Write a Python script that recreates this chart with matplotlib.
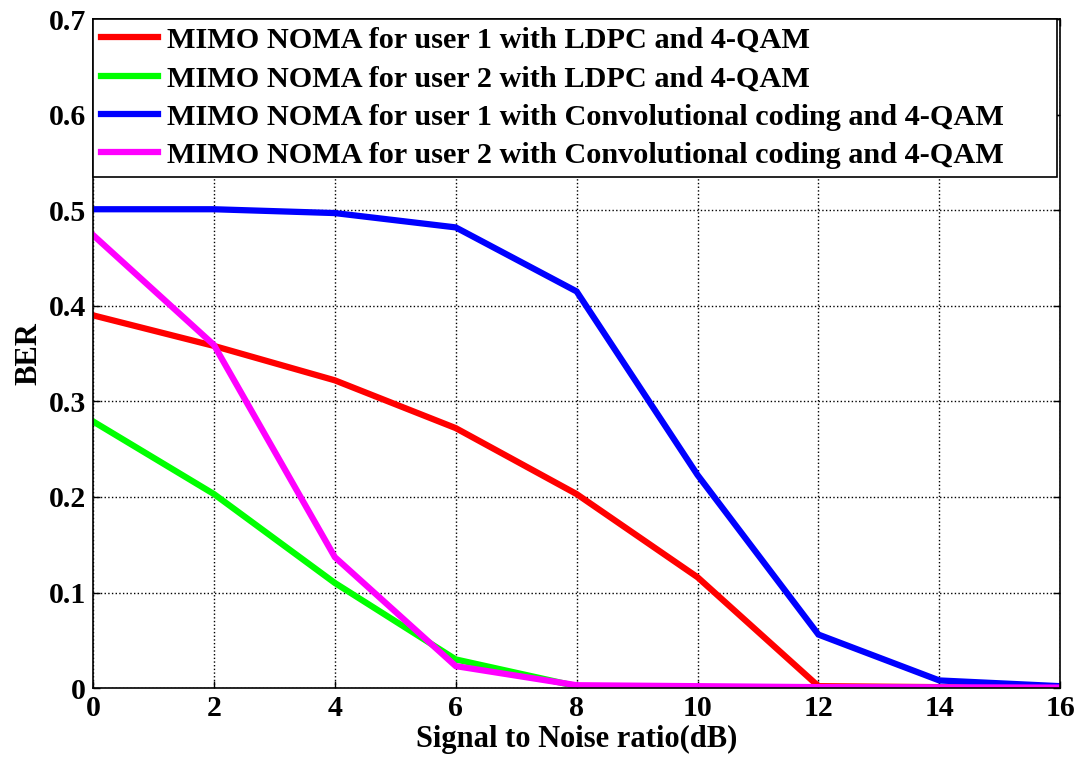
import matplotlib
matplotlib.use("Agg")
import matplotlib.pyplot as plt

snr = [0, 2, 4, 6, 8, 10, 12, 14, 16]
ldpc_u1 = [0.390, 0.358, 0.322, 0.272, 0.203, 0.116, 0.002, 0.001, 0.0005]
ldpc_u2 = [0.279, 0.203, 0.110, 0.030, 0.002, 0.001, 0.0005, 0.0003, 0.0002]
conv_u1 = [0.501, 0.501, 0.497, 0.482, 0.415, 0.223, 0.056, 0.008, 0.002]
conv_u2 = [0.474, 0.359, 0.137, 0.023, 0.003, 0.002, 0.001, 0.0008, 0.0005]
labels = [
    "MIMO NOMA for user 1 with LDPC and 4-QAM",
    "MIMO NOMA for user 2 with LDPC and 4-QAM",
    "MIMO NOMA for user 1 with Convolutional coding and 4-QAM",
    "MIMO NOMA for user 2 with Convolutional coding and 4-QAM",
]
colors = ["#ff0000", "#00ff00", "#0000ff", "#ff00ff"]
xticks = [0, 2, 4, 6, 8, 10, 12, 14, 16]
yticks = [0, 0.1, 0.2, 0.3, 0.4, 0.5, 0.6, 0.7]
yticklabels = ["0", "0.1", "0.2", "0.3", "0.4", "0.5", "0.6", "0.7"]

plt.rcParams["font.family"] = ["Liberation Serif", "DejaVu Serif"]
plt.rcParams["font.weight"] = "bold"

fig = plt.figure(figsize=(10.77, 7.62), dpi=100)
ax = fig.add_axes([0.0864, 0.097, 0.898, 0.878])

for y, c, lab in zip([ldpc_u1, ldpc_u2, conv_u1, conv_u2], colors, labels):
    ax.plot(snr, y, color=c, lw=4.5, label=lab, solid_joinstyle="miter")

ax.set_xlim(0, 16)
ax.set_ylim(0, 0.7)
ax.set_xticks(xticks)
ax.set_yticks(yticks)
ax.set_yticklabels(yticklabels)
ax.tick_params(direction="in", length=5, width=1, top=True, right=True,
               labelsize=21.5, pad=5)
for lab in ax.get_xticklabels() + ax.get_yticklabels():
    lab.set_fontweight("bold")
ax.grid(True, color="black", linestyle=":", linewidth=1)
for s in ax.spines.values():
    s.set_linewidth(1.2)

ax.set_xlabel("Signal to Noise ratio(dB)", fontsize=22, fontweight="bold", labelpad=2)
ax.set_ylabel("BER", fontsize=22, fontweight="bold", labelpad=4)

leg = ax.legend(loc="upper left", bbox_to_anchor=(0, 0.5, 0.997, 0.5),
                mode="expand", borderaxespad=0,
                prop={"weight": "bold", "size": 21.8},
                fancybox=False, edgecolor="black", framealpha=1,
                handlelength=1.9, handletextpad=0.3, labelspacing=0.37,
                borderpad=0.25)
leg.get_frame().set_linewidth(1.2)
for h in leg.get_lines():
    h.set_linewidth(4.5)

fig.savefig("out.png", dpi=100)
